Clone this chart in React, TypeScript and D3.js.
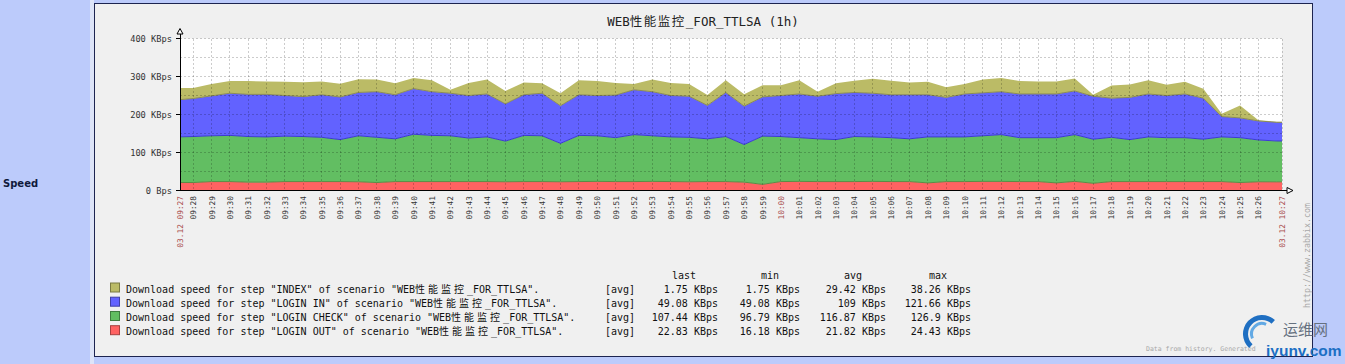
import React, { useEffect, useRef } from "react"
import * as d3 from "d3"

// samples, one per minute (the graph window is 09:27:17 .. 10:27:17)
const sampleTimes = [
  "09:27", "09:28", "09:29", "09:30", "09:31", "09:32", "09:33", "09:34", "09:35", "09:36",
  "09:37", "09:38", "09:39", "09:40", "09:41", "09:42", "09:43", "09:44", "09:45", "09:46",
  "09:47", "09:48", "09:49", "09:50", "09:51", "09:52", "09:53", "09:54", "09:55", "09:56",
  "09:57", "09:58", "09:59", "10:00", "10:01", "10:02", "10:03", "10:04", "10:05", "10:06",
  "10:07", "10:08", "10:09", "10:10", "10:11", "10:12", "10:13", "10:14", "10:15", "10:16",
  "10:17", "10:18", "10:19", "10:20", "10:21", "10:22", "10:23", "10:24", "10:25", "10:26",
  "10:27", "10:28",
]

// KBps per step
const indexSpeed = [
  32, 28, 31, 32, 35, 34, 36, 38, 35, 35,
  35, 32, 30, 28, 30, 9, 33, 38, 34, 32,
  26, 33, 38, 38, 32, 15, 32, 33, 32, 27,
  32, 31, 31, 27, 36, 12, 27, 31, 38, 37,
  32, 34, 27, 26, 35, 36, 34, 33, 33, 33,
  4, 33, 34, 36, 28, 32, 25, 7.5, 33, 2,
  1.75, 1.75,
]
const loginInSpeed = [
  97, 100, 105, 111, 111, 112, 107, 105, 112, 112,
  114, 120, 116, 120, 115, 112, 112, 113, 98, 107,
  112, 99, 107, 106, 112, 118, 116, 109, 108, 88,
  116, 101, 103, 108, 115, 112, 121, 116, 115, 113,
  116, 111, 104, 113, 113, 113, 115, 115, 115, 115,
  113, 103, 111, 113, 111, 115, 108, 53.5, 52, 50,
  49.08, 49.08,
]
const loginCheckSpeed = [
  120, 121, 120.5, 121.5, 120, 119, 119.5, 118.5, 116.5, 110.5,
  121, 119, 112.5, 124.5, 121.5, 120.5, 114.5, 117.5, 107, 121.5,
  120.5, 101, 121.5, 120, 115.5, 123.5, 120, 117.5, 117, 112.5,
  118.5, 99, 126.9, 118.5, 115, 112.5, 110.5, 118.5, 117, 115.5,
  112.5, 121, 117.5, 117.5, 120, 123, 115.5, 115.5, 119, 123,
  116, 116.5, 110.5, 117.5, 115.5, 115.5, 111.5, 117.5, 118, 110,
  107.44, 107.44,
]
const loginOutSpeed = [
  21, 21, 23.5, 23.5, 22, 22, 23.5, 23.5, 23.5, 23.5,
  23, 21, 23.5, 23.5, 23.5, 23.5, 23.5, 23.5, 23, 23.5,
  23.5, 23, 23.5, 24, 23.5, 23.5, 24, 23.5, 23, 23.5,
  23.5, 22, 16.2, 23.5, 24, 23.5, 23.5, 23.5, 24, 23.5,
  23.5, 20, 23.5, 23.5, 24, 24, 23.5, 23.5, 20, 24,
  19, 23.5, 23.5, 23.5, 23.5, 23.5, 23.5, 23.5, 21, 23,
  22.83, 22.83,
]

const stepNames = ["INDEX", "LOGIN IN", "LOGIN CHECK", "LOGIN OUT"]
const stepColors = ["#bbbb66", "#6262ff", "#62be62", "#ff6262"]
const edgeColors = ["#8a8a58", "#3b3bcf", "#5a8c45", "#b04a4a"]
const statHeads = ["last", "min", "avg", "max"]
const statLast = ["1.75 KBps", "49.08 KBps", "107.44 KBps", "22.83 KBps"]
const statMin = ["1.75 KBps", "49.08 KBps", "96.79 KBps", "16.18 KBps"]
const statAvg = ["29.42 KBps", "109 KBps", "116.87 KBps", "21.82 KBps"]
const statMax = ["38.26 KBps", "121.66 KBps", "126.9 KBps", "24.43 KBps"]

const mono = "'DejaVu Sans Mono', 'Noto Sans CJK SC', monospace"

// split text so CJK glyphs can be widened to two columns
function addRuns(text, str, cjkSpacing) {
  const parts = str.split(/([\u4e00-\u9fff]+)/)
  parts.forEach(p => {
    if (!p) return
    const isCjk = /[\u4e00-\u9fff]/.test(p)
    const ts = text.append("tspan").text(p)
    if (isCjk && cjkSpacing) ts.attr("letter-spacing", cjkSpacing)
  })
}

export default function App() {
  const ref = useRef(null)

  useEffect(() => {
    const svg = d3.select(ref.current)
    svg.selectAll("*").remove()

    const parse = d3.timeParse("%Y-%m-%d %H:%M:%S")
    const t0 = parse("2014-03-12 09:27:17")
    const t1 = parse("2014-03-12 10:27:17")
    const data = sampleTimes.map((s, i) => ({
      time: parse("2014-03-12 " + s + ":00"),
      out: loginOutSpeed[i],
      check: loginCheckSpeed[i],
      login: loginInSpeed[i],
      index: indexSpeed[i],
    }))

    const left = 180, right = 1282, top = 38.5, bottom = 190.5
    const x = d3.scaleTime().domain([t0, t1]).range([left, right])
    const y = d3.scaleLinear().domain([0, 400]).range([bottom, top])

    // page backgrounds
    svg.append("rect").attr("width", 1345).attr("height", 364).attr("fill", "#bccbfb")
    svg.append("rect").attr("x", 90).attr("y", 0).attr("width", 4).attr("height", 364).attr("fill", "#dde4f8")
    svg.append("text")
      .attr("x", 3).attr("y", 187)
      .attr("font-family", "'DejaVu Sans', sans-serif")
      .attr("font-weight", "bold").attr("font-size", 10)
      .attr("fill", "#101a3c")
      .text("Speed")

    svg.append("rect")
      .attr("x", 94.5).attr("y", 3.5).attr("width", 1218).attr("height", 353)
      .attr("fill", "#f0f0f0").attr("stroke", "#1d2450")

    const title = svg.append("text")
      .attr("x", 703).attr("y", 26)
      .attr("text-anchor", "middle")
      .attr("font-family", mono).attr("font-size", 12.5)
      .attr("fill", "#222")
    addRuns(title, "WEB性能监控_FOR_TTLSA (1h)", 1.5)

    svg.append("rect")
      .attr("x", left).attr("y", top).attr("width", right - left).attr("height", bottom - top)
      .attr("fill", "#ffffff")

    svg.append("clipPath").attr("id", "plotclip")
      .append("rect")
      .attr("x", left).attr("y", top).attr("width", right - left).attr("height", bottom - top)

    const keys = ["out", "check", "login", "index"]
    const keyColor = { index: stepColors[0], login: stepColors[1], check: stepColors[2], out: stepColors[3] }
    const keyEdge = { index: edgeColors[0], login: edgeColors[1], check: edgeColors[2], out: edgeColors[3] }
    const series = d3.stack().keys(keys)(data)

    const area = d3.area()
      .x(d => x(d.data.time))
      .y0(d => y(d[0]))
      .y1(d => y(d[1]))
    const edge = d3.line()
      .x(d => x(d.data.time))
      .y(d => y(d[0]))

    const plot = svg.append("g").attr("clip-path", "url(#plotclip)")
    plot.selectAll("path.layer")
      .data(series)
      .enter()
      .append("path")
      .attr("class", "layer")
      .attr("d", area)
      .attr("fill", d => keyColor[d.key])
    plot.selectAll("path.edge")
      .data(series.slice(1))
      .enter()
      .append("path")
      .attr("class", "edge")
      .attr("d", edge)
      .attr("fill", "none")
      .attr("stroke", d => keyEdge[d.key])
      .attr("stroke-width", 1)

    // grid
    const grid = svg.append("g")
      .attr("stroke", "#000").attr("stroke-opacity", 0.2)
      .attr("stroke-dasharray", "2,2").attr("shape-rendering", "crispEdges")
    y.ticks(8).filter(v => v > 0).forEach(v => {
      grid.append("line").attr("x1", left).attr("x2", right).attr("y1", y(v)).attr("y2", y(v))
    })
    const minuteTicks = x.ticks(d3.timeMinute.every(1)).filter(t => x(t) < right - 10)
    minuteTicks.forEach(t => {
      grid.append("line").attr("x1", x(t)).attr("x2", x(t)).attr("y1", top).attr("y2", bottom)
    })
    grid.append("line").attr("x1", right).attr("x2", right).attr("y1", top).attr("y2", bottom)

    // axes
    const axes = svg.append("g").attr("stroke", "#000").attr("shape-rendering", "crispEdges")
    axes.append("line").attr("x1", left).attr("x2", left).attr("y1", bottom).attr("y2", 34)
    axes.append("line").attr("x1", 176).attr("x2", 1287).attr("y1", bottom).attr("y2", bottom)
    y.ticks(4).forEach(v => {
      axes.append("line").attr("x1", 176).attr("x2", left).attr("y1", y(v)).attr("y2", y(v))
    })
    svg.append("path")
      .attr("d", "M177,34 L183,34 L180,28.5 Z")
      .attr("fill", "#fff").attr("stroke", "#000")
    svg.append("path")
      .attr("d", "M1287,187.5 L1287,193.5 L1293,190.5 Z")
      .attr("fill", "#fff").attr("stroke", "#000")

    // y labels
    y.ticks(4).forEach(v => {
      svg.append("text")
        .attr("x", 172).attr("y", y(v) + 3)
        .attr("text-anchor", "end")
        .attr("font-family", mono).attr("font-size", 8.7)
        .attr("fill", "#333")
        .text(v === 0 ? "0 Bps" : v + " KBps")
    })

    // x labels
    const fmtMin = d3.timeFormat("%H:%M")
    const fmtFull = d3.timeFormat("%m.%d %H:%M")
    const red = "#a84a4a"
    const xLabel = (px, txt, color) => {
      svg.append("text")
        .attr("transform", `translate(${px + 3},196) rotate(-90)`)
        .attr("text-anchor", "end")
        .attr("font-family", mono).attr("font-size", 7.8)
        .attr("fill", color)
        .text(txt)
    }
    minuteTicks.forEach(t => {
      xLabel(x(t), fmtMin(t), t.getMinutes() === 0 ? red : "#333")
    })
    xLabel(left, fmtFull(t0), red)
    xLabel(right, fmtFull(t1), red)

    // legend
    const rowY = [292.5, 306.7, 321, 335.2]
    stepNames.forEach((name, i) => {
      svg.append("rect")
        .attr("x", 110.5).attr("y", rowY[i] - 9.5).attr("width", 9).attr("height", 9)
        .attr("fill", stepColors[i]).attr("stroke", d3.color(stepColors[i]).darker(1.2).toString())
      const t = svg.append("text")
        .attr("x", 126).attr("y", rowY[i])
        .attr("font-family", mono).attr("font-size", 10)
        .attr("fill", "#111")
      addRuns(t, `Download speed for step "${name}" of scenario "WEB性能监控_FOR_TTLSA".`, 3)
      svg.append("text")
        .attr("x", 605).attr("y", rowY[i])
        .attr("font-family", mono).attr("font-size", 10).attr("fill", "#111")
        .text("[avg]")
    })
    const headX = [684, 770, 853, 938]
    const colEnd = [718, 800, 886, 971]
    const cols = [statLast, statMin, statAvg, statMax]
    statHeads.forEach((h, c) => {
      svg.append("text")
        .attr("x", headX[c]).attr("y", 278.5)
        .attr("text-anchor", "middle")
        .attr("font-family", mono).attr("font-size", 10).attr("fill", "#111")
        .text(h)
      cols[c].forEach((v, i) => {
        svg.append("text")
          .attr("x", colEnd[c]).attr("y", rowY[i])
          .attr("text-anchor", "end")
          .attr("font-family", mono).attr("font-size", 10).attr("fill", "#111")
          .text(v)
      })
    })

    // footer texts
    svg.append("text")
      .attr("transform", "translate(1310,308) rotate(-90)")
      .attr("font-family", mono).attr("font-size", 8.3)
      .attr("fill", "#a8a8a8")
      .text("http://www.zabbix.com")
    svg.append("text")
      .attr("x", 1146).attr("y", 351)
      .attr("font-family", mono).attr("font-size", 6.5)
      .attr("fill", "#a8a8a8")
      .text("Data from history. Generated")

    // site watermark
    const logo = svg.append("g").attr("transform", "translate(1262,334)")
    logo.append("path")
      .attr("d", d3.arc()({ innerRadius: 14, outerRadius: 19, startAngle: -2.4, endAngle: 0.75 }))
      .attr("fill", "#1f6fc2")
    logo.append("path")
      .attr("d", d3.arc()({ innerRadius: 9, outerRadius: 12, startAngle: -2.0, endAngle: 0.4 }))
      .attr("fill", "#62a9e4")
    svg.append("text")
      .attr("x", 1283).attr("y", 335)
      .attr("font-family", "'Noto Sans CJK SC', sans-serif").attr("font-size", 15)
      .attr("fill", "#66717f")
      .text("运维网")
    svg.append("text")
      .attr("x", 1266).attr("y", 356)
      .attr("font-family", "'Liberation Sans', Arial, sans-serif")
      .attr("font-weight", "bold").attr("font-size", 15.5)
      .attr("fill", "#1b6fc4")
      .text("iyunv.com")
  }, [])

  return (
    <div style={{ position: "absolute", left: 0, top: 0 }}>
      <svg ref={ref} width={1345} height={364} style={{ display: "block" }} />
    </div>
  )
}
